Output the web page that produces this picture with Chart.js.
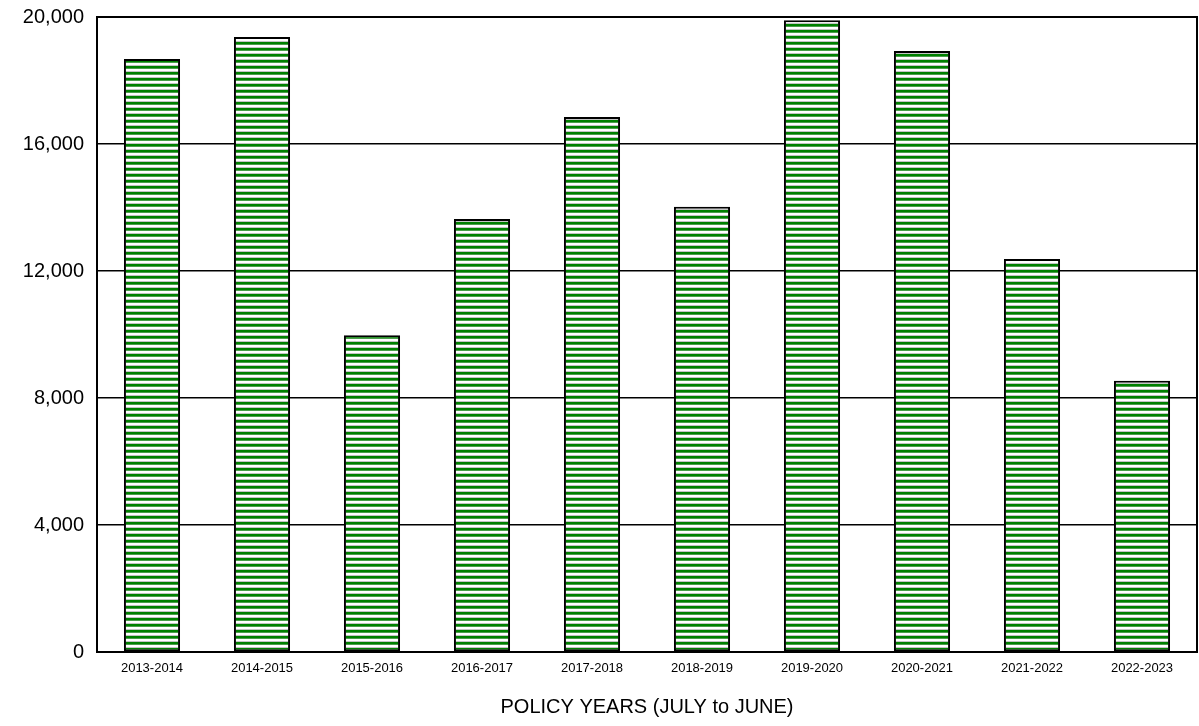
<!DOCTYPE html>
<html>
<head>
<meta charset="utf-8">
<script src="https://cdn.jsdelivr.net/npm/chart.js@4.4.0/dist/chart.umd.min.js"></script>
<style>
  html, body { margin: 0; padding: 0; background: #fff; }
  #wrap { width: 1199px; height: 726px; }
</style>
</head>
<body>
<div id="wrap"><canvas id="grafico_barras"></canvas></div>
<script>
var anos = ["2013-2014", "2014-2015", "2015-2016", "2016-2017", "2017-2018",
            "2018-2019", "2019-2020", "2020-2021", "2021-2022", "2022-2023"];
var valores = [18680, 19370, 9980, 13640, 16850, 14020, 19900, 18930, 12380, 8540];
var ticksY = [0, 4000, 8000, 12000, 16000, 20000];

// horizontal stripe fill like the original
function listras() {
  var c = document.createElement('canvas');
  c.width = 8; c.height = 6;
  var g = c.getContext('2d');
  g.fillStyle = '#ffffff'; g.fillRect(0, 0, 8, 6);
  g.fillStyle = '#008000'; g.fillRect(0, 0, 8, 2);
  g.fillStyle = '#4a9e4a'; g.fillRect(0, 2, 8, 1);
  g.fillStyle = '#c4c4c4'; g.fillRect(0, 5, 8, 1);
  return g.createPattern(c, 'repeat');
}

var moldura = {
  id: 'moldura',
  afterDraw: function(chart) {
    var a = chart.chartArea, ctx = chart.ctx;
    ctx.save();
    ctx.strokeStyle = '#000';
    ctx.lineWidth = 2;
    ctx.strokeRect(a.left, a.top, a.right - a.left, a.bottom - a.top);
    ctx.restore();
  }
};

Chart.defaults.font.family = "'Liberation Sans', Arial, sans-serif";
Chart.defaults.color = '#000';

new Chart(document.getElementById("grafico_barras"), {
  type: 'bar',
  data: {
    labels: anos,
    datasets: [{
      data: valores,
      backgroundColor: listras(),
      borderColor: '#000',
      borderWidth: 2,
      borderSkipped: false,
      categoryPercentage: 1.0,
      barPercentage: 0.51
    }]
  },
  options: {
    responsive: true,
    maintainAspectRatio: false,
    animation: false,
    layout: { padding: { top: 17, right: 2, left: 0, bottom: 0 } },
    plugins: { legend: { display: false }, tooltip: { enabled: false } },
    scales: {
      x: {
        grid: { display: false, drawTicks: false },
        border: { display: false },
        ticks: { font: { size: 13 }, padding: 9, maxRotation: 0 },
        title: { display: true, text: 'POLICY YEARS (JULY to JUNE)', font: { size: 20 }, padding: { top: 14, bottom: 7 } },
        afterFit: function(s) { s.height = 74; s.paddingLeft = 0; s.paddingRight = 0; }
      },
      y: {
        min: 0, max: 20000,
        afterBuildTicks: function(s) { s.ticks = ticksY.map(function(v) { return { value: v }; }); },
        grid: { color: '#000', lineWidth: 1.5, drawTicks: false },
        border: { display: false },
        ticks: {
          font: { size: 20 }, padding: 13,
          callback: function(v) { return v.toLocaleString('en-US'); }
        },
        afterFit: function(s) { s.width = 97; s.paddingTop = 0; s.paddingBottom = 0; }
      }
    }
  },
  plugins: [moldura]
});
</script>
</body>
</html>
